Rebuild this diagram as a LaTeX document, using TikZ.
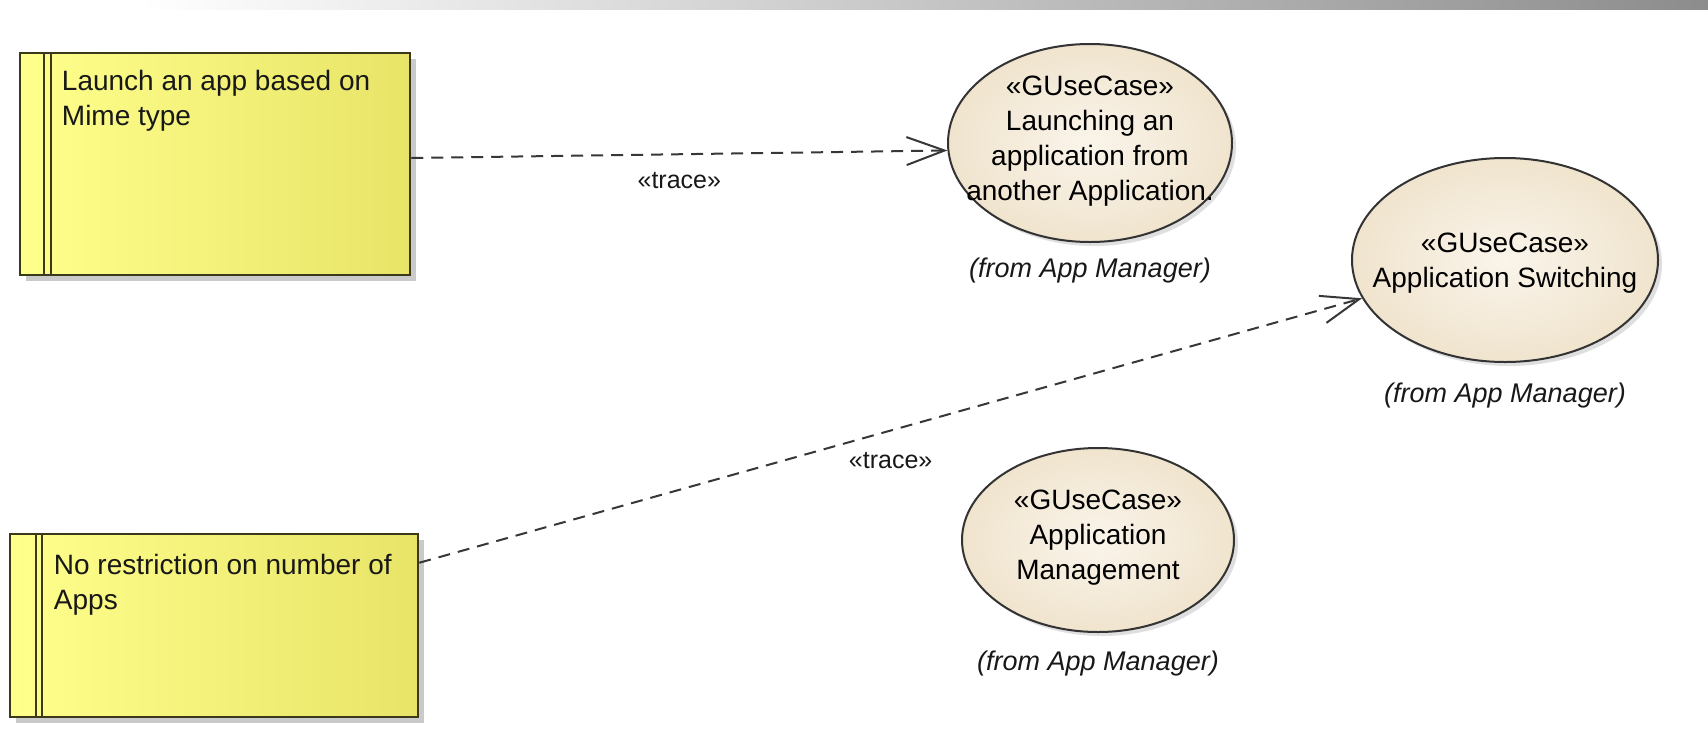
\documentclass[tikz,border=0pt]{standalone}
\usepackage{fontspec}
\setmainfont{Liberation Sans}
\usetikzlibrary{arrows.meta,shapes.geometric,shadows,calc}
\definecolor{boxborder}{RGB}{58,58,26}
\definecolor{yelA}{RGB}{255,255,140}
\definecolor{yelB}{RGB}{232,228,104}
\definecolor{creamIn}{RGB}{250,244,234}
\definecolor{creamOut}{RGB}{240,228,206}
\definecolor{txt}{RGB}{24,24,24}
\definecolor{linec}{RGB}{55,55,55}
\begin{document}
\begin{tikzpicture}[x=1pt,y=-1pt,
  reqbox/.style={draw=boxborder, line width=2.5pt, left color=yelA, right color=yelB,
    drop shadow={shadow xshift=6pt, shadow yshift=-6pt, fill=black!35, opacity=0.6},
    inner sep=0pt},
  boxline/.style={draw=boxborder, line width=2pt},
  reqtext/.style={anchor=north west, inner sep=0pt, align=left, text=txt,
    font=\fontsize{28}{35}\selectfont},
  usecase/.style={ellipse, draw=black!80, line width=2pt, inner color=creamIn, outer color=creamOut,
    drop shadow={shadow xshift=4pt, shadow yshift=-4pt, fill=black!25, opacity=0.5},
    inner sep=0pt},
  uctext/.style={inner sep=0pt, align=center, text=black, font=\fontsize{28}{35}\selectfont},
  fromlbl/.style={font=\itshape\fontsize{27}{30}\selectfont, text=txt, inner sep=0pt},
  trace/.style={draw=linec, line width=2pt, dash pattern=on 12pt off 8pt,
    -{Straight Barb[length=38pt,width=28pt,line width=2pt]}},
  tracelbl/.style={font=\fontsize{25}{27}\selectfont, text=txt, inner sep=0pt}
]
\useasboundingbox (0,0) rectangle (1708,742);
% top gradient band
\shade[left color=white, right color=black!45] (140,0) rectangle (1708,9);

% requirement boxes
\node[reqbox, minimum width=390pt, minimum height=222pt] (b1) at (215,164) {};
\draw[boxline] ([xshift=25pt]b1.north west) -- ([xshift=25pt]b1.south west);
\draw[boxline] ([xshift=32pt]b1.north west) -- ([xshift=32pt]b1.south west);
\node[reqtext] (t1) at ([xshift=43pt,yshift=-18pt]b1.north west) {Launch an app based on\\Mime type};

\node[reqbox, minimum width=408pt, minimum height=183pt] (b2) at (214,625.5) {};
\draw[boxline] ([xshift=27pt]b2.north west) -- ([xshift=27pt]b2.south west);
\draw[boxline] ([xshift=33pt]b2.north west) -- ([xshift=33pt]b2.south west);
\node[reqtext] (t2) at ([xshift=45pt,yshift=-21pt]b2.north west) {No restriction on number of\\Apps};

% use cases
\node[usecase, minimum width=284pt, minimum height=198pt] (e1) at (1090,143) {};
\node[uctext] (u1) at ([yshift=2pt]e1.center) {«GUseCase»\\Launching an\\application from\\another Application.};
\node[fromlbl] (f1) at ([yshift=-28pt]e1.south) {(from App Manager)};

\node[usecase, minimum width=306pt, minimum height=204pt] (e2) at (1505,260) {};
\node[uctext] (u2) at ([yshift=-3pt]e2.center) {«GUseCase»\\Application Switching};
\node[fromlbl] (f2) at ([yshift=-33pt]e2.south) {(from App Manager)};

\node[usecase, minimum width=272pt, minimum height=184pt] (e3) at (1098,540) {};
\node[uctext] (u3) at ([yshift=2pt]e3.center) {«GUseCase»\\Application\\Management};
\node[fromlbl] (f3) at ([yshift=-31pt]e3.south) {(from App Manager)};

% traces
\draw[trace] ([yshift=6pt]b1.east) -- (e1.183)
  node[tracelbl, midway, yshift=-26pt] (l1) {«trace»};
\draw[trace] ([yshift=-30pt]b2.north east) -- (e2.195)
  node[tracelbl, midway, yshift=-30pt] (l2) {«trace»};
\end{tikzpicture}
\end{document}
